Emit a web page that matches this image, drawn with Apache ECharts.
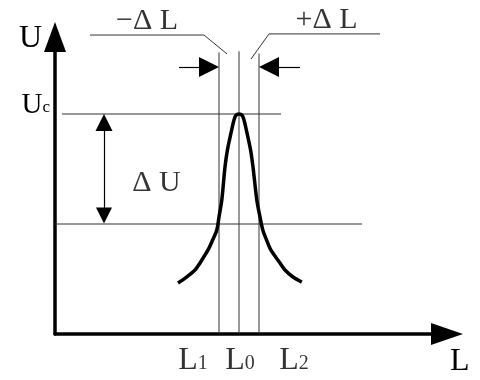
<!DOCTYPE html>
<html>
<head>
<meta charset="utf-8">
<title>U-L</title>
<style>
  html, body { margin: 0; padding: 0; background: #fff; }
  #chart { width: 480px; height: 380px; }
</style>
<script src="https://cdn.jsdelivr.net/npm/echarts@6.0.0/dist/echarts.min.js"></script>
</head>
<body>
<div id="chart"></div>
<script>
// resonance curve
var curveL = [6.95, 7.38, 7.8, 8.05, 8.45, 8.68, 8.89, 9.0, 9.14, 9.3, 9.42, 9.6, 9.75, 9.85, 10,
              10.15, 10.25, 10.4, 10.58, 10.7, 10.89, 11.05, 11.19, 11.38, 11.59, 12.05, 12.3, 12.7, 13.14];
var curveU = [2.32, 2.59, 2.91, 3.23, 3.82, 4.27, 4.73, 5.32, 6.09, 7.59, 8.36, 9.14, 9.73, 9.95, 10,
              9.95, 9.73, 9.14, 8.36, 7.59, 6.09, 5.32, 4.73, 4.27, 3.82, 3.23, 2.91, 2.59, 2.36];

// L1, L0, L2 verticals
var markL = [9, 10, 11];
var markSub = ['1', '0', '2'];
var markTop = [12.8, 12.85, 12.75];

// Uc and Uc - dU levels
var levelU = [10, 5];
var levelFrom = [1.15, 0.8];
var levelTo = [12.1, 16.15];

// dL arrows (start -> tip), dU arrow between the two levels
var dLy = 12.14;
var dLFrom = [7.0, 13.05];
var dLTo = [9, 11];
var dUx = 3.25;

// leader lines for the dL labels
var leaderMinus = [[2.55, 13.59], [8.25, 13.59], [9.4, 12.73]];
var leaderPlus = [[17.05, 13.64], [11.5, 13.64], [10.6, 12.5]];

var font = 'Liberation Serif';
var dLHead = [14, 20];   // arrow head size, px
var dUHead = [16, 17];

var myChart = echarts.init(document.getElementById('chart'));

var xMin = 0.8, xMax = 20.4, yMin = 0, yMax = 13.5;
var grid = { left: 55, right: 33, top: 37, bottom: 46 };
var xPx = (480 - grid.left - grid.right) / (xMax - xMin);
var yPx = (380 - grid.top - grid.bottom) / (yMax - yMin);

var curve = [];
for (var i = 0; i < curveL.length; i++) {
  curve.push([curveL[i], curveU[i]]);
}

var guides = [];
for (var i = 0; i < markL.length; i++) {
  guides.push({ coords: [[markL[i], 0], [markL[i], markTop[i]]] });
}
for (var i = 0; i < levelU.length; i++) {
  guides.push({ coords: [[levelFrom[i], levelU[i]], [levelTo[i], levelU[i]]] });
}
guides.push({ coords: leaderMinus });
guides.push({ coords: leaderPlus });

// triangle heads sit centred on the line end, so pull the end back half a head
var dLArrows = [];
for (var i = 0; i < dLFrom.length; i++) {
  var dir = dLTo[i] > dLFrom[i] ? 1 : -1;
  dLArrows.push({ coords: [[dLFrom[i], dLy], [dLTo[i] - dir * dLHead[1] / 2 / xPx, dLy]] });
}
var dUHalf = dUHead[1] / 2 / yPx;
var dUArrow = [{ coords: [[dUx, levelU[1] + dUHalf], [dUx, levelU[0] - dUHalf]] }];

// L1 / L0 / L2 names under the axis, nudged sideways like the drawing
var tickShift = [-26, 1, 35];
var tickLabels = [];
for (var i = 0; i < markL.length; i++) {
  tickLabels.push({
    value: [markL[i], 0, '{p|L}{s|' + markSub[i] + '}'],
    label: { offset: [tickShift[i], 0] }
  });
}

var option = {
  animation: false,
  grid: grid,
  xAxis: {
    type: 'value',
    min: xMin,
    max: xMax,
    name: 'L',
    nameGap: 3,
    nameTextStyle: { fontFamily: font, fontSize: 32, color: '#000', verticalAlign: 'top', padding: [12, 0, 0, 0] },
    axisLine: {
      onZero: false,
      symbol: ['none', 'triangle'],
      symbolSize: [22, 32],
      lineStyle: { color: '#000', width: 3.5 }
    },
    axisTick: { show: false },
    splitLine: { show: false },
    axisLabel: { show: false }
  },
  yAxis: {
    type: 'value',
    min: yMin,
    max: yMax,
    name: 'U',
    nameGap: -2,
    nameTextStyle: { fontFamily: font, fontSize: 32, color: '#000', align: 'right', verticalAlign: 'middle', padding: [0, 13, 0, 0] },
    axisLine: {
      onZero: false,
      symbol: ['none', 'triangle'],
      symbolSize: [22, 30],
      lineStyle: { color: '#000', width: 3.5 }
    },
    axisTick: { show: false },
    splitLine: { show: false },
    axisLabel: {
      customValues: [levelU[0]],
      margin: 5,
      padding: [0, 0, 18, 0],
      formatter: function () { return '{u|U}{c|c}'; },
      rich: {
        u: { fontFamily: font, fontSize: 29, lineHeight: 29, color: '#000' },
        c: { fontFamily: font, fontSize: 17, lineHeight: 17, color: '#000', verticalAlign: 'bottom', padding: [0, 0, 3, 0] }
      }
    }
  },
  series: [
    {
      name: 'guides',
      type: 'lines',
      coordinateSystem: 'cartesian2d',
      polyline: true,
      clip: false,
      silent: true,
      lineStyle: { color: '#333', width: 1, opacity: 1 },
      data: guides
    },
    {
      name: 'dL',
      type: 'lines',
      coordinateSystem: 'cartesian2d',
      clip: false,
      silent: true,
      symbol: ['none', 'triangle'],
      symbolSize: dLHead,
      lineStyle: { color: '#000', width: 1.2, opacity: 1 },
      data: dLArrows
    },
    {
      name: 'dU',
      type: 'lines',
      coordinateSystem: 'cartesian2d',
      clip: false,
      silent: true,
      symbol: ['triangle', 'triangle'],
      symbolSize: dUHead,
      lineStyle: { color: '#000', width: 1.2, opacity: 1 },
      data: dUArrow
    },
    {
      name: 'curve',
      type: 'line',
      data: curve,
      smooth: 0.3,
      symbol: 'none',
      lineStyle: { color: '#000', width: 3.5 },
      z: 5
    },
    {
      name: 'text',
      type: 'scatter',
      symbolSize: 0,
      clip: false,
      silent: true,
      label: {
        show: true,
        position: 'top',
        distance: -1,
        fontFamily: font,
        fontSize: 30,
        color: '#000',
        formatter: function (p) { return p.value[2]; }
      },
      data: [
        [5.4, leaderMinus[0][1], '\u2212\u0394 L'],
        [14.375, leaderPlus[0][1], '+\u0394 L'],
        { value: [5.875, 6.86, '\u0394 U'], label: { position: 'inside' } }
      ]
    },
    {
      name: 'ticks',
      type: 'scatter',
      symbolSize: 0,
      clip: false,
      silent: true,
      label: {
        show: true,
        position: 'bottom',
        distance: 11,
        formatter: function (p) { return p.value[2]; },
        rich: {
          p: { fontFamily: font, fontSize: 32, lineHeight: 32, color: '#000' },
          s: { fontFamily: font, fontSize: 20, lineHeight: 20, color: '#000', verticalAlign: 'bottom', padding: [0, 0, 3, 0] }
        }
      },
      data: tickLabels
    }
  ]
};

myChart.setOption(option);
</script>
</body>
</html>
